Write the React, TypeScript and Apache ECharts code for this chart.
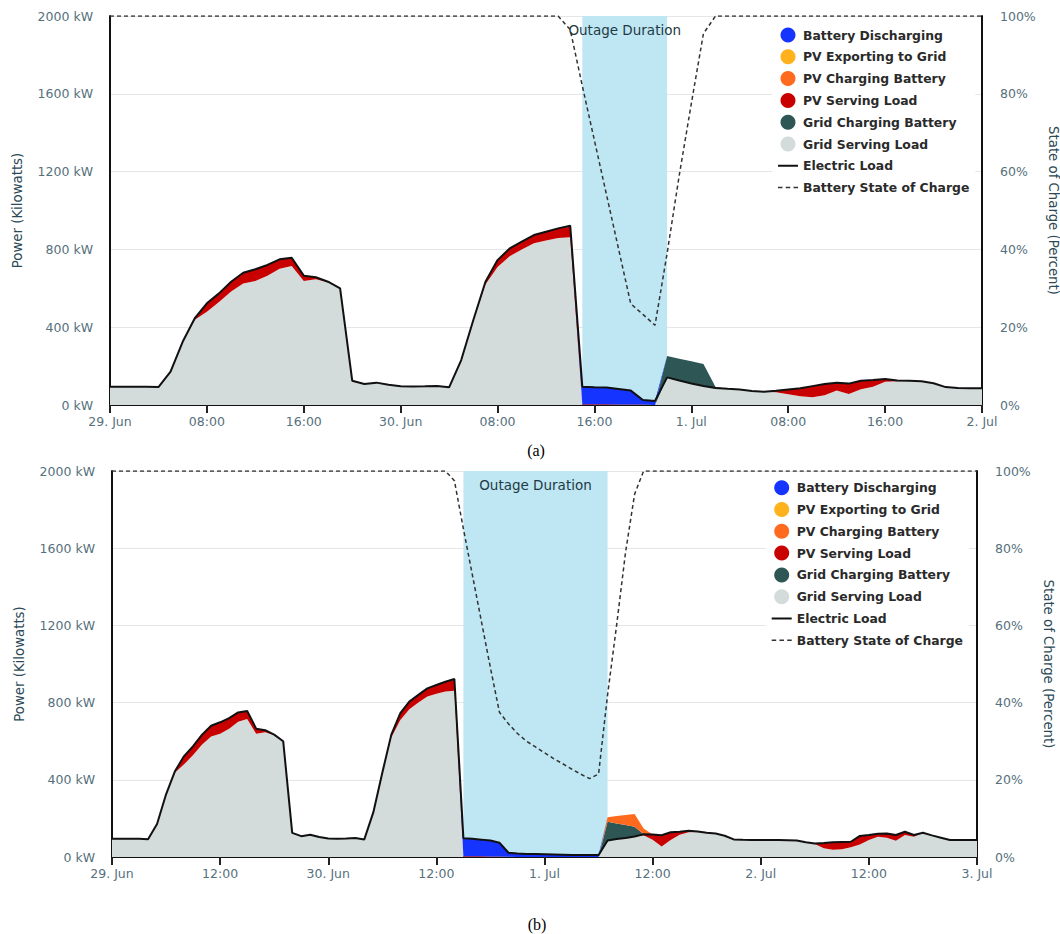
import React, { useEffect, useRef } from "react";
import * as echarts from "echarts";

// ---------- tick labels ----------
const xLabelsA = ["29. Jun", "08:00", "16:00", "30. Jun", "08:00", "16:00", "1. Jul", "08:00", "16:00", "2. Jul"];
const xLabelsB = ["29. Jun", "12:00", "30. Jun", "12:00", "1. Jul", "12:00", "2. Jul", "12:00", "3. Jul"];

const outageA = [39, 46]; // hours since 29 Jun 00:00
const outageB = [39, 55];

// ---------- panel (a) : hourly values, 29 Jun 00:00 .. 2 Jul 00:00 ----------
const loadA = [
  94, 94, 94, 94, 92, 171, 325, 446, 523, 574, 634, 680,
  698, 720, 749, 757, 665, 657, 634, 600, 125, 108, 115, 104,
  96, 95, 96, 98, 91, 231, 437, 634, 745, 805, 840, 874,
  891, 908, 922, 94, 91, 90, 82, 74, 26, 21, 142, 126,
  111, 98, 87, 83, 80, 72, 68, 73, 80, 86, 97, 108,
  115, 110, 125, 128, 134, 126, 125, 122, 112, 92, 87, 86,
  86,
];
const gridServingA = [
  94, 94, 94, 94, 92, 171, 325, 438, 480, 529, 583, 625,
  638, 664, 701, 715, 638, 647, 631, 600, 125, 108, 115, 104,
  96, 95, 96, 98, 91, 231, 432, 619, 710, 765, 800, 832,
  846, 858, 862, 0, 0, 0, 0, 0, 0, 0, 142, 126,
  111, 98, 87, 83, 80, 72, 68, 66, 55, 45, 40, 50,
  74, 57, 81, 94, 120, 122, 125, 122, 112, 92, 87, 86,
  86,
];
const pvServingA = [
  0, 0, 0, 0, 0, 0, 0, 8, 43, 45, 51, 55,
  60, 56, 48, 42, 27, 10, 3, 0, 0, 0, 0, 0,
  0, 0, 0, 0, 0, 0, 5, 15, 35, 40, 40, 42,
  45, 50, 55, 4, 4, 4, 3, 3, 2, 0, 0, 0,
  0, 0, 0, 0, 0, 0, 0, 7, 25, 41, 57, 58,
  41, 53, 44, 34, 14, 4, 0, 0, 0, 0, 0, 0,
  0,
];
const gridChargingA = [
  0, 0, 0, 0, 0, 0, 0, 0, 0, 0, 0, 0,
  0, 0, 0, 0, 0, 0, 0, 0, 0, 0, 0, 0,
  0, 0, 0, 0, 0, 0, 0, 0, 0, 0, 0, 0,
  0, 0, 0, 0, 0, 0, 0, 0, 0, 0, 110, 112,
  114, 113, 5, 0, 0, 0, 0, 0, 0, 0, 0, 0,
  0, 0, 0, 0, 0, 0, 0, 0, 0, 0, 0, 0,
  0,
];
const pvChargingA = [
  0, 0, 0, 0, 0, 0, 0, 0, 0, 0, 0, 0,
  0, 0, 0, 0, 0, 0, 0, 0, 0, 0, 0, 0,
  0, 0, 0, 0, 0, 0, 0, 0, 0, 0, 0, 0,
  0, 0, 0, 0, 0, 0, 0, 0, 0, 0, 0, 0,
  0, 0, 0, 0, 0, 0, 0, 0, 0, 0, 0, 0,
  0, 0, 0, 0, 0, 0, 0, 0, 0, 0, 0, 0,
  0,
];
const pvExportingA = [
  0, 0, 0, 0, 0, 0, 0, 0, 0, 0, 0, 0,
  0, 0, 0, 0, 0, 0, 0, 0, 0, 0, 0, 0,
  0, 0, 0, 0, 0, 0, 0, 0, 0, 0, 0, 0,
  0, 0, 0, 0, 0, 0, 0, 0, 0, 0, 0, 0,
  0, 0, 0, 0, 0, 0, 0, 0, 0, 0, 0, 0,
  0, 0, 0, 0, 0, 0, 0, 0, 0, 0, 0, 0,
  0,
];
const dischargingA = [
  0, 0, 0, 0, 0, 0, 0, 0, 0, 0, 0, 0,
  0, 0, 0, 0, 0, 0, 0, 0, 0, 0, 0, 0,
  0, 0, 0, 0, 0, 0, 0, 0, 0, 0, 0, 0,
  0, 0, 5, 90, 87, 86, 79, 71, 24, 21, 0, 0,
  0, 0, 0, 0, 0, 0, 0, 0, 0, 0, 0, 0,
  0, 0, 0, 0, 0, 0, 0, 0, 0, 0, 0, 0,
  0,
];
const socA = [
  100, 100, 100, 100, 100, 100, 100, 100, 100, 100, 100, 100,
  100, 100, 100, 100, 100, 100, 100, 100, 100, 100, 100, 100,
  100, 100, 100, 100, 100, 100, 100, 100, 100, 100, 100, 100,
  100, 100, 96.5, 82, 68, 54, 40, 26, 23.3, 20.5, 39, 59,
  77.5, 95.5, 100, 100, 100, 100, 100, 100, 100, 100, 100, 100,
  100, 100, 100, 100, 100, 100, 100, 100, 100, 100, 100, 100,
  100,
];

// ---------- panel (b) : hourly values, 29 Jun 00:00 .. 3 Jul 00:00 ----------
const loadB = [
  94, 94, 94, 94, 92, 171, 325, 446, 523, 574, 634, 680,
  698, 720, 749, 757, 665, 657, 634, 600, 125, 108, 115, 104,
  96, 95, 96, 98, 91, 231, 437, 634, 745, 805, 840, 874,
  891, 908, 922, 97, 94, 90, 85, 74, 22, 18, 16, 15,
  14, 13, 12, 11, 10, 10, 10, 86, 93, 98, 106, 118,
  117, 113, 128, 131, 136, 132, 126, 122, 110, 91, 89, 88,
  88, 88, 88, 87, 85, 76, 70, 72, 76, 78, 79, 109,
  114, 120, 122, 114, 131, 114, 126, 112, 100, 88, 88, 88,
  88,
];
const gridServingB = [
  94, 94, 94, 94, 92, 171, 325, 438, 480, 529, 583, 625,
  638, 664, 701, 715, 638, 647, 631, 600, 125, 108, 115, 104,
  96, 95, 96, 98, 91, 231, 432, 619, 710, 765, 800, 832,
  846, 858, 862, 0, 0, 0, 0, 0, 0, 0, 0, 0,
  0, 0, 0, 0, 0, 0, 0, 86, 93, 98, 106, 113,
  90, 55, 88, 115, 128, 130, 126, 122, 110, 91, 89, 88,
  88, 88, 88, 87, 85, 76, 68, 45, 38, 40, 50, 65,
  88, 105, 100, 84, 114, 105, 126, 112, 100, 88, 88, 88,
  88,
];
const pvServingB = [
  0, 0, 0, 0, 0, 0, 0, 8, 43, 45, 51, 55,
  60, 56, 48, 42, 27, 10, 3, 0, 0, 0, 0, 0,
  0, 0, 0, 0, 0, 0, 5, 15, 35, 40, 40, 42,
  45, 50, 55, 4, 4, 4, 3, 3, 1, 0, 0, 0,
  0, 0, 0, 0, 0, 0, 0, 0, 0, 0, 0, 5,
  27, 58, 40, 16, 8, 2, 0, 0, 0, 0, 0, 0,
  0, 0, 0, 0, 0, 0, 2, 27, 38, 38, 29, 44,
  26, 15, 22, 30, 17, 9, 0, 0, 0, 0, 0, 0,
  0,
];
const gridChargingB = [
  0, 0, 0, 0, 0, 0, 0, 0, 0, 0, 0, 0,
  0, 0, 0, 0, 0, 0, 0, 0, 0, 0, 0, 0,
  0, 0, 0, 0, 0, 0, 0, 0, 0, 0, 0, 0,
  0, 0, 0, 0, 0, 0, 0, 0, 0, 0, 0, 0,
  0, 0, 0, 0, 0, 0, 0, 97, 81, 68, 51, 0,
  0, 0, 0, 0, 0, 0, 0, 0, 0, 0, 0, 0,
  0, 0, 0, 0, 0, 0, 0, 0, 0, 0, 0, 0,
  0, 0, 0, 0, 0, 0, 0, 0, 0, 0, 0, 0,
  0,
];
const pvChargingB = [
  0, 0, 0, 0, 0, 0, 0, 0, 0, 0, 0, 0,
  0, 0, 0, 0, 0, 0, 0, 0, 0, 0, 0, 0,
  0, 0, 0, 0, 0, 0, 0, 0, 0, 0, 0, 0,
  0, 0, 0, 0, 0, 0, 0, 0, 0, 0, 0, 0,
  0, 0, 0, 0, 0, 0, 0, 23, 38, 52, 66, 30,
  0, 0, 0, 0, 0, 0, 0, 0, 0, 0, 0, 0,
  0, 0, 0, 0, 0, 0, 0, 0, 0, 0, 0, 0,
  0, 0, 0, 0, 0, 0, 0, 0, 0, 0, 0, 0,
  0,
];
const pvExportingB = [
  0, 0, 0, 0, 0, 0, 0, 0, 0, 0, 0, 0,
  0, 0, 0, 0, 0, 0, 0, 0, 0, 0, 0, 0,
  0, 0, 0, 0, 0, 0, 0, 0, 0, 0, 0, 0,
  0, 0, 0, 0, 0, 0, 0, 0, 0, 0, 0, 0,
  0, 0, 0, 0, 0, 0, 0, 0, 0, 0, 0, 0,
  0, 0, 0, 0, 0, 0, 0, 0, 0, 0, 0, 0,
  0, 0, 0, 0, 0, 0, 0, 0, 0, 0, 0, 0,
  0, 0, 0, 0, 0, 0, 0, 0, 0, 0, 0, 0,
  0,
];
const dischargingB = [
  0, 0, 0, 0, 0, 0, 0, 0, 0, 0, 0, 0,
  0, 0, 0, 0, 0, 0, 0, 0, 0, 0, 0, 0,
  0, 0, 0, 0, 0, 0, 0, 0, 0, 0, 0, 0,
  0, 0, 5, 93, 90, 86, 82, 71, 21, 18, 16, 15,
  14, 13, 12, 11, 10, 10, 10, 0, 0, 0, 0, 0,
  0, 0, 0, 0, 0, 0, 0, 0, 0, 0, 0, 0,
  0, 0, 0, 0, 0, 0, 0, 0, 0, 0, 0, 0,
  0, 0, 0, 0, 0, 0, 0, 0, 0, 0, 0, 0,
  0,
];
const socB = [
  100, 100, 100, 100, 100, 100, 100, 100, 100, 100, 100, 100,
  100, 100, 100, 100, 100, 100, 100, 100, 100, 100, 100, 100,
  100, 100, 100, 100, 100, 100, 100, 100, 100, 100, 100, 100,
  100, 100, 97.5, 85, 73, 61, 49, 37.5, 34.5, 32, 30, 28.5,
  27, 25.5, 24.2, 22.8, 21.5, 20.3, 21.5, 42, 60, 79, 94, 100,
  100, 100, 100, 100, 100, 100, 100, 100, 100, 100, 100, 100,
  100, 100, 100, 100, 100, 100, 100, 100, 100, 100, 100, 100,
  100, 100, 100, 100, 100, 100, 100, 100, 100, 100, 100, 100,
  100,
];

// hour-index categories (one per data point)
const hoursA = loadA.map((_, i) => String(i));
const hoursB = loadB.map((_, i) => String(i));

// ---------- styling ----------
const FONT = "DejaVu Sans";
const C = {
  discharging: "#1634ff",
  exporting: "#ffb21c",
  pvCharging: "#ff6a1f",
  pvServing: "#c80000",
  gridCharging: "#2d5654",
  gridServing: "#d3dbdb",
  band: "#bee6f3",
  tick: "#56707c",
  title: "#2c4a55",
};

// degenerate sub-paths at y=0 and y=15 keep the icon box 20x15 tall
const LINE_ICON = "path://M0,0L0.01,0Z M0,15L0.01,15Z M0,6.5H20V8.5H0Z";
const DASH_ICON =
  "path://M0,0L0.01,0Z M0,15L0.01,15Z M0,6.75H4.5V8.25H0Z M7.75,6.75H12.25V8.25H7.75Z M15.5,6.75H20V8.25H15.5Z";

const legendItems = [
  { name: "Battery Discharging", icon: "circle" },
  { name: "PV Exporting to Grid", icon: "circle" },
  { name: "PV Charging Battery", icon: "circle" },
  { name: "PV Serving Load", icon: "circle" },
  { name: "Grid Charging Battery", icon: "circle" },
  { name: "Grid Serving Load", icon: "circle" },
  { name: "Electric Load", icon: LINE_ICON },
  { name: "Battery State of Charge", icon: DASH_ICON },
];

function panelSeries(
  xi: number,
  yi: number,
  stack: string,
  d: {
    load: number[];
    gridServing: number[];
    pvServing: number[];
    gridCharging: number[];
    pvCharging: number[];
    exporting: number[];
    discharging: number[];
    soc: number[];
    outage: number[];
  }
) {
  const area = (name: string, data: number[], color: string) => ({
    name,
    type: "line",
    xAxisIndex: xi,
    yAxisIndex: yi,
    stack,
    data,
    symbol: "none",
    showSymbol: false,
    lineStyle: { width: 0, color },
    itemStyle: { color },
    areaStyle: { color, opacity: 1 },
    z: 2,
    silent: true,
  });
  return [
    {
      name: "outage-" + stack,
      type: "line",
      xAxisIndex: xi,
      yAxisIndex: yi,
      data: [],
      symbol: "none",
      silent: true,
      markArea: {
        silent: true,
        itemStyle: { color: C.band },
        label: {
          show: true,
          position: "insideTop",
          distance: 7,
          color: "#1e3a44",
          fontFamily: FONT,
          fontSize: 13.5,
        },
        data: [[{ xAxis: d.outage[0], name: "Outage Duration" }, { xAxis: d.outage[1] }]],
      },
    },
    area("Grid Serving Load", d.gridServing, C.gridServing),
    area("PV Serving Load", d.pvServing, C.pvServing),
    area("Grid Charging Battery", d.gridCharging, C.gridCharging),
    area("PV Charging Battery", d.pvCharging, C.pvCharging),
    area("PV Exporting to Grid", d.exporting, C.exporting),
    area("Battery Discharging", d.discharging, C.discharging),
    {
      name: "Electric Load",
      type: "line",
      xAxisIndex: xi,
      yAxisIndex: yi,
      data: d.load,
      symbol: "none",
      lineStyle: { width: 2, color: "#111" },
      itemStyle: { color: "#111" },
      z: 3,
      silent: true,
    },
    {
      name: "Battery State of Charge",
      type: "line",
      xAxisIndex: xi,
      yAxisIndex: yi + 1,
      data: d.soc,
      symbol: "none",
      lineStyle: { width: 1.5, color: "#333", type: [4, 3] },
      itemStyle: { color: "#333" },
      z: 4,
      silent: true,
    },
  ];
}

function xAxis(gridIndex: number, cats: string[], step: number, labels: string[]) {
  return {
    type: "category",
    gridIndex,
    data: cats,
    boundaryGap: false,
    axisLine: { show: true, onZero: false, lineStyle: { color: "#111", width: 2 } },
    axisTick: { show: true, interval: step - 1, length: 8, lineStyle: { color: "#222", width: 2 } },
    splitLine: { show: false },
    axisLabel: {
      interval: step - 1,
      margin: 10,
      color: C.tick,
      fontFamily: FONT,
      fontSize: 12.5,
      formatter: (_v: string, idx: number) => labels[Math.round(idx / step)] ?? "",
    },
  };
}

function yAxes(gridIndex: number) {
  return [
    {
      type: "value",
      gridIndex,
      min: 0,
      max: 2000,
      interval: 400,
      name: "Power (Kilowatts)",
      nameLocation: "middle",
      nameGap: 86,
      nameTextStyle: { color: C.title, fontFamily: FONT, fontSize: 13.3 },
      axisLine: { show: true, lineStyle: { color: "#111", width: 2 } },
      axisTick: { show: false },
      splitLine: { show: true, lineStyle: { color: "#e3e7e7", width: 1 } },
      axisLabel: {
        margin: 17,
        color: C.tick,
        fontFamily: FONT,
        fontSize: 12.5,
        formatter: (v: number) => v + " kW",
      },
    },
    {
      type: "value",
      gridIndex,
      position: "right",
      min: 0,
      max: 100,
      interval: 20,
      name: "State of Charge (Percent)",
      nameLocation: "middle",
      nameRotate: -90,
      nameGap: 63,
      nameTextStyle: { color: C.title, fontFamily: FONT, fontSize: 13.3 },
      axisLine: { show: true, lineStyle: { color: "#111", width: 2 } },
      axisTick: { show: false },
      splitLine: { show: false },
      axisLabel: {
        margin: 18,
        color: C.tick,
        fontFamily: FONT,
        fontSize: 12.5,
        formatter: (v: number) => v + "%",
      },
    },
  ];
}

function legend(left: number, top: number) {
  return {
    orient: "vertical",
    left,
    top,
    itemWidth: 20,
    itemHeight: 15,
    itemGap: 6.8,
    padding: [5, 6],
    backgroundColor: "#ffffff",
    selectedMode: false,
    textStyle: { fontFamily: FONT, fontSize: 12.4, fontWeight: "bold", color: "#2a2a2a" },
    data: legendItems,
  };
}

export default function App() {
  const ref = useRef<HTMLDivElement>(null);
  useEffect(() => {
    if (!ref.current) return;
    const chart = echarts.init(ref.current, undefined, { renderer: "svg" });
    chart.setOption({
      animation: false,
      textStyle: { fontFamily: FONT },
      grid: [
        { left: 110, top: 16, width: 872, height: 389, containLabel: false, outerBoundsMode: "none" },
        { left: 112, top: 471, width: 865, height: 386, containLabel: false, outerBoundsMode: "none" },
      ],
      xAxis: [xAxis(0, hoursA, 8, xLabelsA), xAxis(1, hoursB, 12, xLabelsB)],
      yAxis: [...yAxes(0), ...yAxes(1)],
      legend: [legend(772, 22.5), legend(765.7, 475.2)],
      series: [
        ...panelSeries(0, 0, "a", {
          load: loadA,
          gridServing: gridServingA,
          pvServing: pvServingA,
          gridCharging: gridChargingA,
          pvCharging: pvChargingA,
          exporting: pvExportingA,
          discharging: dischargingA,
          soc: socA,
          outage: outageA,
        }),
        ...panelSeries(1, 2, "b", {
          load: loadB,
          gridServing: gridServingB,
          pvServing: pvServingB,
          gridCharging: gridChargingB,
          pvCharging: pvChargingB,
          exporting: pvExportingB,
          discharging: dischargingB,
          soc: socB,
          outage: outageB,
        }),
      ],
      graphic: [
        {
          type: "text",
          x: 536,
          y: 450,
          style: {
            text: "(a)",
            fontFamily: "Liberation Serif",
            fontSize: 16,
            fill: "#000",
            align: "center",
            verticalAlign: "middle",
          },
        },
        {
          type: "text",
          x: 537,
          y: 924,
          style: {
            text: "(b)",
            fontFamily: "Liberation Serif",
            fontSize: 16,
            fill: "#000",
            align: "center",
            verticalAlign: "middle",
          },
        },
      ],
    });
    return () => chart.dispose();
  }, []);
  return (
    <div
      ref={ref}
      style={{ position: "absolute", left: 0, top: 0, width: 1060, height: 934, background: "#fff" }}
    />
  );
}
